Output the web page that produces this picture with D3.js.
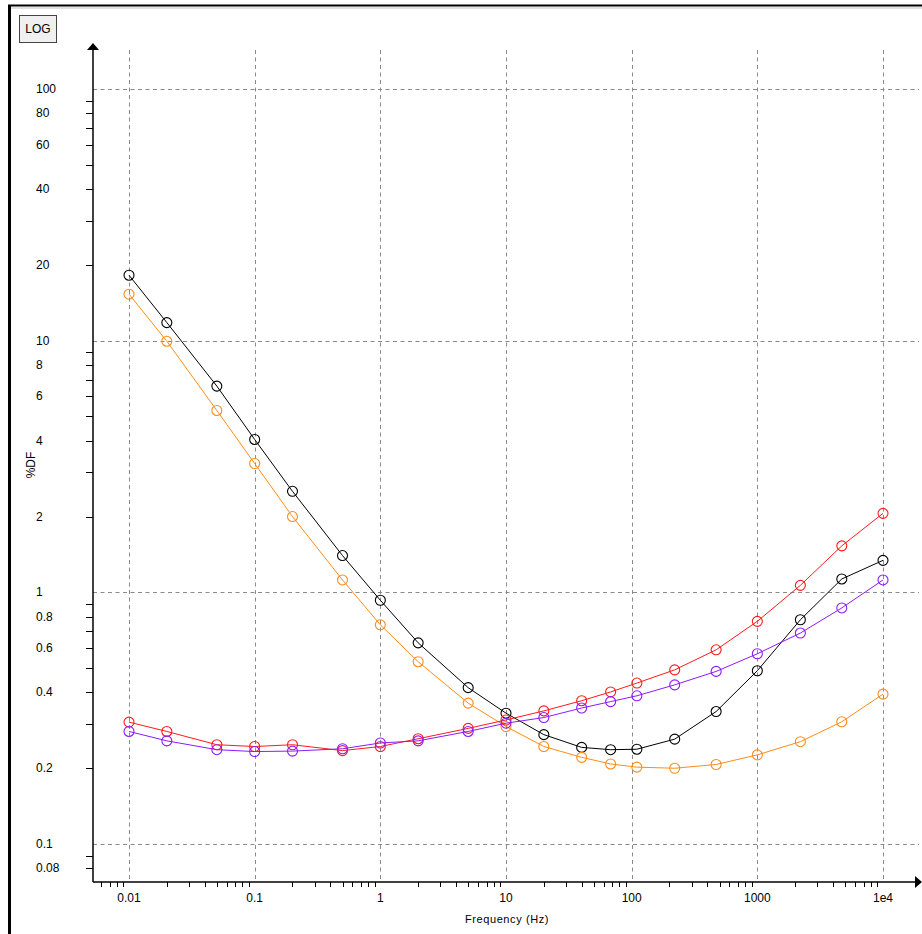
<!DOCTYPE html>
<html>
<head>
<meta charset="utf-8">
<script src="https://cdn.jsdelivr.net/npm/d3@7"></script>
<style>
  body { margin: 0; background: #fff; }
  svg { display: block; font-family: "Liberation Sans", Arial, sans-serif; }
</style>
</head>
<body>
<script>
'use strict';

// frequencies (Hz) of the measured points
let freqs = [0.01, 0.02, 0.05, 0.1, 0.2, 0.5, 1, 2, 5, 10, 20, 40, 68, 110, 220, 470, 1000, 2200, 4700, 10000];

// %DF per series
let blackDF  = [18.2, 11.8, 6.6, 4.05, 2.52, 1.40, 0.93, 0.63, 0.418, 0.331, 0.272, 0.242, 0.237, 0.238, 0.261, 0.336, 0.488, 0.778, 1.13, 1.34];
let orangeDF = [15.3, 9.95, 5.28, 3.25, 2.0, 1.12, 0.743, 0.53, 0.363, 0.293, 0.244, 0.221, 0.208, 0.202, 0.200, 0.207, 0.226, 0.255, 0.306, 0.394];
let redDF    = [0.305, 0.280, 0.248, 0.244, 0.248, 0.235, 0.244, 0.262, 0.288, 0.311, 0.338, 0.371, 0.402, 0.436, 0.492, 0.591, 0.767, 1.066, 1.53, 2.06];
let purpleDF = [0.280, 0.257, 0.237, 0.233, 0.234, 0.239, 0.252, 0.257, 0.280, 0.302, 0.318, 0.347, 0.368, 0.388, 0.429, 0.485, 0.570, 0.689, 0.867, 1.12];

let seriesColors = ['#000000', '#ff8c1a', '#ff1a1a', '#8c1aff'];

let xLabels = ['0.01', '0.1', '1', '10', '100', '1000', '1e4'];
let xDecades = [0.01, 0.1, 1, 10, 100, 1000, 10000];
let yLabelVals = [100, 80, 60, 40, 20, 10, 8, 6, 4, 2, 1, 0.8, 0.6, 0.4, 0.2, 0.1, 0.08];
let yDecades = [0.1, 1, 10, 100];

let width = 922;
let height = 934;
let axisX = 93;     // y axis position
let axisY = 882;    // x axis position
let rightEnd = 916;
let topEnd = 50;

let x = d3.scaleLog().domain([0.01, 10000]).range([129, 883]);
let y = d3.scaleLog().domain([0.1, 100]).range([844, 89]);

let minorTicks = (scale, lo, hi) => {
  let out = [];
  for (let p = -4; p <= 5; ++p) {
    for (let k = 2; k <= 9; ++k) {
      let v = k * Math.pow(10, p);
      let px = scale(v);
      if (px > lo && px < hi) out.push(v);
    }
  }
  return out;
};

let svg = d3.select('body').append('svg')
  .attr('width', width)
  .attr('height', height);

svg.append('rect').attr('width', width).attr('height', height).attr('fill', '#fff');

// outer frame
svg.append('line').attr('x1', 8).attr('x2', width).attr('y1', 5.5).attr('y2', 5.5)
  .attr('stroke', '#000').attr('stroke-width', 2);
svg.append('line').attr('x1', 11).attr('x2', width).attr('y1', 8).attr('y2', 8)
  .attr('stroke', '#e0e0e0').attr('stroke-width', 2);
svg.append('line').attr('x1', 9.5).attr('x2', 9.5).attr('y1', 5).attr('y2', height)
  .attr('stroke', '#000').attr('stroke-width', 3);

// LOG button
let btn = svg.append('g');
btn.append('rect').attr('x', 19.5).attr('y', 15.5).attr('width', 37).attr('height', 27)
  .attr('fill', '#f0f0f0').attr('stroke', '#444');
btn.append('text').attr('x', 38).attr('y', 33).attr('text-anchor', 'middle')
  .attr('font-size', 12).attr('fill', '#000').text('LOG');

// grid
let grid = svg.append('g')
  .attr('stroke', '#8a8a8a')
  .attr('stroke-dasharray', '4,3.5')
  .attr('stroke-width', 1);

grid.selectAll('.vgrid')
  .data(xDecades)
  .enter().append('line')
    .attr('x1', function(d) { return Math.round(x(d)) + 0.5; })
    .attr('x2', function(d) { return Math.round(x(d)) + 0.5; })
    .attr('y1', topEnd)
    .attr('y2', axisY);

grid.selectAll('.hgrid')
  .data(yDecades)
  .enter().append('line')
    .attr('x1', axisX)
    .attr('x2', 919)
    .attr('y1', function(d) { return Math.round(y(d)) + 0.5; })
    .attr('y2', function(d) { return Math.round(y(d)) + 0.5; });

// axes
let axes = svg.append('g').attr('stroke', '#000').attr('stroke-width', 1.5);
axes.append('line').attr('x1', axisX).attr('x2', rightEnd).attr('y1', axisY).attr('y2', axisY);
axes.append('line').attr('x1', axisX).attr('x2', axisX).attr('y1', axisY).attr('y2', 48);

svg.append('path')
  .attr('d', `M${rightEnd - 1},${axisY - 6}L${width},${axisY}L${rightEnd - 1},${axisY + 6}Z`)
  .attr('fill', '#000');
svg.append('path')
  .attr('d', `M${axisX - 6},50L${axisX},43L${axisX + 6},50Z`)
  .attr('fill', '#000');

// minor ticks
svg.append('g').attr('stroke', '#000').attr('stroke-width', 1)
  .selectAll('line')
  .data(minorTicks(x, axisX + 3, rightEnd - 5))
  .enter().append('line')
    .attr('x1', function(d) { return Math.round(x(d)) + 0.5; })
    .attr('x2', function(d) { return Math.round(x(d)) + 0.5; })
    .attr('y1', axisY)
    .attr('y2', axisY + 5);

svg.append('g').attr('stroke', '#000').attr('stroke-width', 1)
  .selectAll('line')
  .data(minorTicks(y, topEnd + 5, axisY - 3))
  .enter().append('line')
    .attr('x1', axisX - 7)
    .attr('x2', axisX)
    .attr('y1', function(d) { return Math.round(y(d)) + 0.5; })
    .attr('y2', function(d) { return Math.round(y(d)) + 0.5; });

// tick labels
svg.append('g').attr('font-size', 12).attr('fill', '#000')
  .selectAll('text')
  .data(xDecades)
  .enter().append('text')
    .attr('x', function(d) { return x(d); })
    .attr('y', 902)
    .attr('text-anchor', 'middle')
    .text(function(d, i) { return xLabels[i]; });

svg.append('g').attr('font-size', 12).attr('fill', '#000')
  .selectAll('text')
  .data(yLabelVals)
  .enter().append('text')
    .attr('x', 36)
    .attr('y', function(d) { return y(d) + 4; })
    .text(function(d) { return String(d); });

// axis titles
svg.append('text')
  .attr('x', 507).attr('y', 923)
  .attr('text-anchor', 'middle')
  .attr('font-size', 11)
  .attr('letter-spacing', 0.6)
  .text('Frequency (Hz)');

svg.append('text')
  .attr('transform', 'translate(35,465) rotate(-90)')
  .attr('text-anchor', 'middle')
  .attr('font-size', 12)
  .text('%DF');

// series
let allSeries = [blackDF, orangeDF, redDF, purpleDF];
let line = d3.line()
  .x(function(d, i) { return x(freqs[i]); })
  .y(function(d) { return y(d); });

let seriesG = svg.append('g')
  .selectAll('g')
  .data(allSeries)
  .enter().append('g')
    .attr('stroke', function(d, i) { return seriesColors[i]; })
    .attr('fill', 'none');

seriesG.append('path')
  .attr('d', function(d) { return line(d); })
  .attr('stroke-width', 1);

seriesG.selectAll('circle')
  .data(function(d) { return d; })
  .enter().append('circle')
    .attr('cx', function(d, i) { return x(freqs[i]); })
    .attr('cy', function(d) { return y(d); })
    .attr('r', 5)
    .attr('stroke-width', 1.1);
</script>
</body>
</html>
